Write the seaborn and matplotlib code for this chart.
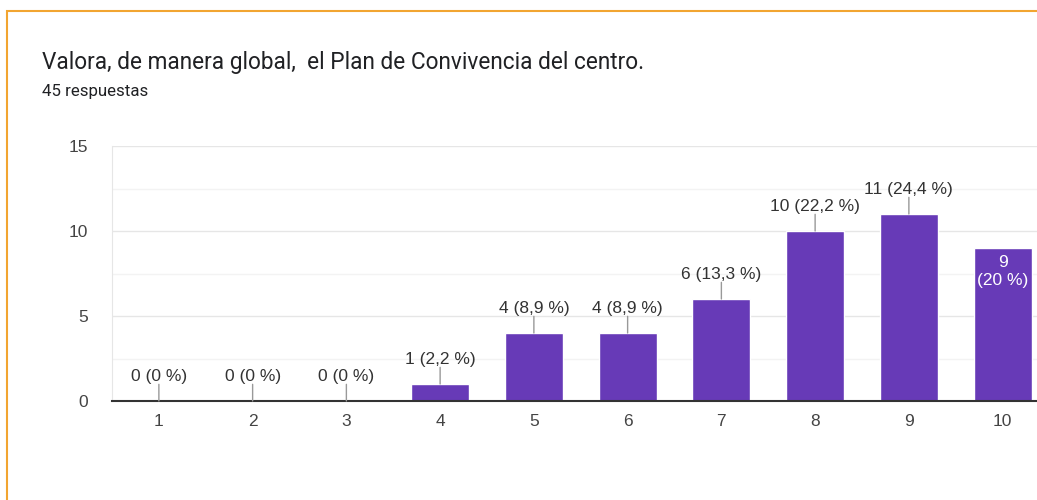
import matplotlib
matplotlib.use("Agg")
import matplotlib.pyplot as plt
import seaborn as sns
import pandas as pd
from matplotlib.patches import Rectangle
from matplotlib.ticker import MultipleLocator

# datos de la encuesta
categorias = ["1", "2", "3", "4", "5", "6", "7", "8", "9", "10"]
respuestas = [0, 0, 0, 1, 4, 4, 6, 10, 11, 9]
total = 45
titulo = "Valora, de manera global,  el Plan de Convivencia del centro."
subtitulo = "45 respuestas"

df = pd.DataFrame({"valor": categorias, "n": respuestas})

sns.set_style("white")
plt.rcParams["font.family"] = ["Roboto", "DejaVu Sans"]
arial = ["Liberation Sans", "DejaVu Sans"]

morado = "#673ab7"
fig = plt.figure(figsize=(10.37, 5), dpi=100)

# marco naranja
fig.patches.append(Rectangle((7/1037, -0.1), 1.2, (500-11)/500 + 0.1, transform=fig.transFigure,
                             fill=False, edgecolor="#f2a531", linewidth=1.5))

fig.text(42/1037, 1 - 62/500, titulo, fontsize=16.3, color="#202124", va="center")
fig.text(42/1037, 1 - 92/500, subtitulo, fontsize=12.2, color="#202124", va="center")

ax = fig.add_axes([112/1037, 99/500, 937.5/1037, 255/500])
sns.barplot(data=df, x="valor", y="n", order=categorias, color=morado,
            saturation=1, width=0.62, ax=ax)

ax.set_xlim(-0.5, 9.5)
ax.set_ylim(0, 15)
ax.yaxis.set_major_locator(MultipleLocator(5))
ax.yaxis.set_minor_locator(MultipleLocator(2.5))
ax.grid(which="major", axis="y", color="#e6e6e6", linewidth=1)
ax.grid(which="minor", axis="y", color="#f3f3f3", linewidth=1)
ax.set_axisbelow(True)
for s in ["top", "right"]:
    ax.spines[s].set_visible(False)
ax.spines["left"].set_color("#e6e6e6")
ax.spines["bottom"].set_color("#333333")
ax.spines["bottom"].set_linewidth(1.5)
ax.tick_params(axis="both", length=0, labelsize=12.5, labelcolor="#444444")
ax.tick_params(axis="y", pad=17)
ax.tick_params(axis="x", pad=9)
for lbl in ax.get_xticklabels() + ax.get_yticklabels():
    lbl.set_family(arial)
ax.set_xlabel("")
ax.set_ylabel("")

for i, v in enumerate(respuestas):
    pct = v / total * 100
    pct_txt = f"{pct:.1f}".rstrip("0").rstrip(".").replace(".", ",")
    if i == len(respuestas) - 1:
        ax.text(i, v - 0.4, f"{v}\n({pct_txt} %)", ha="center", va="top",
                color="white", fontsize=12.5, linespacing=1.3, family=arial)
        continue
    ax.annotate("", xy=(i, v), xytext=(0, 12), textcoords="offset points",
                arrowprops=dict(arrowstyle="-", color="#999999", lw=1, shrinkA=0, shrinkB=0))
    ax.annotate(f"{v} ({pct_txt} %)", xy=(i, v), xytext=(0, 12), textcoords="offset points",
                ha="center", va="bottom", fontsize=12.5, color="#333333", family=arial)

fig.savefig("out.png", dpi=100)
